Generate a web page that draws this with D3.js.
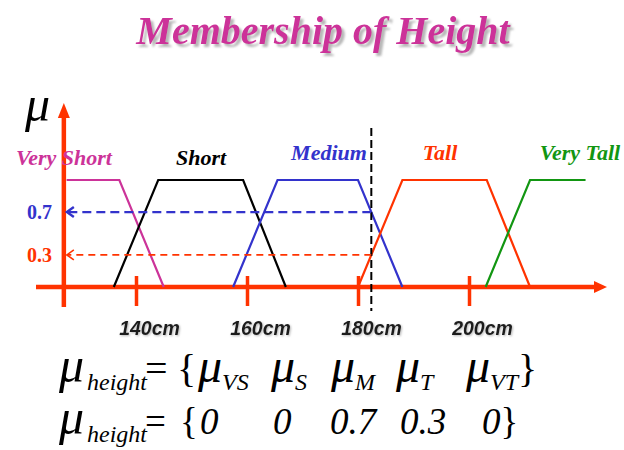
<!DOCTYPE html>
<html><head><meta charset="utf-8">
<script src="https://cdn.jsdelivr.net/npm/d3@7"></script>
<style>body{margin:0;background:#fff}svg{display:block}</style>
</head><body>
<script>
// Fuzzy sets for height: breakpoints [cm, membership degree]
const setNames = ["Very Short", "Short", "Medium", "Tall", "Very Tall"];
const setCodes = ["VS", "S", "M", "T", "VT"];
const veryShortPts = [[127.5, 1], [137, 1], [145, 0]];
const shortPts = [[136, 0], [144, 1], [159.3, 1], [167, 0]];
const mediumPts = [[157.5, 0], [165.5, 1], [180, 1], [188, 0]];
const tallPts = [[180, 0], [188, 1], [203.2, 1], [211, 0]];
const veryTallPts = [[203, 0], [211, 1], [221, 1]];
const tickValues = [140, 160, 180, 200];
const tickLabels = ["140cm", "160cm", "180cm", "200cm"];
const measuredHeight = 182.4;
const memberValues = [0, 0, 0.7, 0.3, 0];
const markedLevels = [0.7, 0.3];

const W = 624, H = 450;
const setColors = ["#cc3399", "#000000", "#3333cc", "#ff3300", "#129612"];
const axisColor = "#ff3300";
const serif = "'Liberation Serif','Times New Roman',serif";

const svg = d3.select("body").append("svg").attr("width", W).attr("height", H);
const defs = svg.append("defs");
const shadow = defs.append("filter").attr("id", "shadow").attr("x", "-5%").attr("y", "-20%")
  .attr("width", "115%").attr("height", "150%");
shadow.append("feDropShadow").attr("dx", 3).attr("dy", 3).attr("stdDeviation", 1)
  .attr("flood-color", "#999").attr("flood-opacity", 0.7);
const lightShadow = defs.append("filter").attr("id", "lightShadow");
lightShadow.append("feDropShadow").attr("dx", 1).attr("dy", 1).attr("stdDeviation", 0.8)
  .attr("flood-color", "#888").attr("flood-opacity", 0.6);

const x = d3.scaleLinear().domain([140, 200]).range([136, 469]);
const y = d3.scaleLinear().domain([0, 1]).range([287, 180]);

// Title
svg.append("text").attr("x", 323).attr("y", 44).attr("text-anchor", "middle")
  .attr("font-family", serif).attr("font-weight", "bold").attr("font-style", "italic")
  .attr("font-size", 40).attr("fill", "#cc3399").attr("filter", "url(#shadow)")
  .text("Membership of Height");

// Axes
const yAxisX = x(127);
svg.append("line").attr("x1", 36).attr("x2", 597).attr("y1", y(0)).attr("y2", y(0))
  .attr("stroke", axisColor).attr("stroke-width", 4.5);
svg.append("path").attr("d", `M607,${y(0)} L594,${y(0) - 6} L594,${y(0) + 6} Z`).attr("fill", axisColor);
svg.append("line").attr("x1", yAxisX).attr("x2", yAxisX).attr("y1", 307).attr("y2", 114)
  .attr("stroke", axisColor).attr("stroke-width", 4.5);
svg.append("path").attr("d", `M${yAxisX},103 L${yAxisX - 6},118 L${yAxisX + 6},118 Z`).attr("fill", axisColor);

const xAxis = d3.axisBottom(x).tickValues(tickValues).tickSize(30)
  .tickFormat((d, i) => tickLabels[i]);
const gx = svg.append("g").attr("transform", "translate(0,276)").call(xAxis);
gx.select(".domain").remove();
gx.selectAll(".tick line").attr("stroke", axisColor).attr("stroke-width", 3.5);
gx.selectAll(".tick text").attr("dx", 13).attr("y", 59).attr("dy", 0)
  .attr("font-family", "'Liberation Sans',Arial,sans-serif").attr("font-weight", "bold")
  .attr("font-style", "italic").attr("font-size", 19.5)
  .attr("fill", "#1e1e1e").attr("filter", "url(#lightShadow)");

// Axis symbol
svg.append("text").attr("x", 25).attr("y", 121).attr("font-family", serif)
  .attr("font-style", "italic").attr("font-size", 50).attr("fill", "#000").text("\u03bc");

// Membership functions
const allSets = [veryShortPts, shortPts, mediumPts, tallPts, veryTallPts];
const line = d3.line().x(d => x(d[0])).y(d => y(d[1]));
svg.append("g").selectAll("path").data(allSets).join("path")
  .attr("d", line).attr("fill", "none")
  .attr("stroke", (d, i) => setColors[i]).attr("stroke-width", 2.2);

// Set labels
const labelX = [64, 201, 329, 440, 580];
const labelY = [165, 165, 160, 160, 160];
svg.append("g").selectAll("text").data(setNames).join("text")
  .attr("x", (d, i) => labelX[i]).attr("y", (d, i) => labelY[i]).attr("text-anchor", "middle")
  .attr("font-family", serif).attr("font-weight", "bold").attr("font-style", "italic")
  .attr("font-size", 22).attr("fill", (d, i) => setColors[i]).text(d => d);

// Measured height and the membership degrees it produces
const hx = x(measuredHeight);
svg.append("line").attr("x1", hx).attr("x2", hx).attr("y1", 128).attr("y2", 311)
  .attr("stroke", "#000").attr("stroke-width", 2).attr("stroke-dasharray", "8,4");

const levelColors = ["#3333cc", "#ff3300"];
const levelWidths = [2.4, 1.6];
const levelDash = ["9,5", "7,5"];
markedLevels.forEach((v, i) => {
  const ly = y(v);
  svg.append("line").attr("x1", hx).attr("x2", yAxisX + 3).attr("y1", ly).attr("y2", ly)
    .attr("stroke", levelColors[i]).attr("stroke-width", levelWidths[i]).attr("stroke-dasharray", levelDash[i]);
  svg.append("path").attr("d", `M${yAxisX + 10},${ly - 5} L${yAxisX + 3},${ly} L${yAxisX + 10},${ly + 5}`)
    .attr("fill", "none").attr("stroke", levelColors[i]).attr("stroke-width", levelWidths[i]);
  svg.append("text").attr("x", 52).attr("y", ly + 7).attr("text-anchor", "end")
    .attr("font-family", serif).attr("font-weight", "bold").attr("font-size", 20)
    .attr("fill", levelColors[i]).text(v.toFixed(1));
});

// Membership vector
function formulaRow(baseY, size, braceX, colX, items, isSymbol) {
  const g = svg.append("g").attr("font-family", serif).attr("fill", "#000");
  g.append("text").attr("x", 59).attr("y", baseY).attr("font-style", "italic").attr("font-size", 50).text("\u03bc");
  g.append("text").attr("x", 87).attr("y", baseY + 8).attr("font-style", "italic").attr("font-size", 24).text("height");
  g.append("text").attr("x", 145).attr("y", baseY).attr("font-size", size).text("=");
  g.append("text").attr("x", braceX).attr("y", baseY).attr("font-size", size).text("{");
  items.forEach((d, i) => {
    const t = g.append("text").attr("x", colX[i]).attr("y", baseY).attr("font-style", "italic").attr("font-size", size);
    if (isSymbol) {
      t.append("tspan").attr("font-size", 48).text("\u03bc");
      t.append("tspan").attr("font-size", 24).attr("dy", 8).text(d);
      if (i === items.length - 1) t.append("tspan").attr("dy", -8).attr("font-style", "normal").text("}");
    } else {
      t.append("tspan").text(d);
      if (i === items.length - 1) t.append("tspan").attr("font-style", "normal").text("}");
    }
  });
}
formulaRow(382, 40, 177, [198, 271, 331, 396, 466], setCodes, true);
formulaRow(434, 37, 180, [200, 273, 330, 400, 482], memberValues.map(String), false);
</script>
</body></html>
